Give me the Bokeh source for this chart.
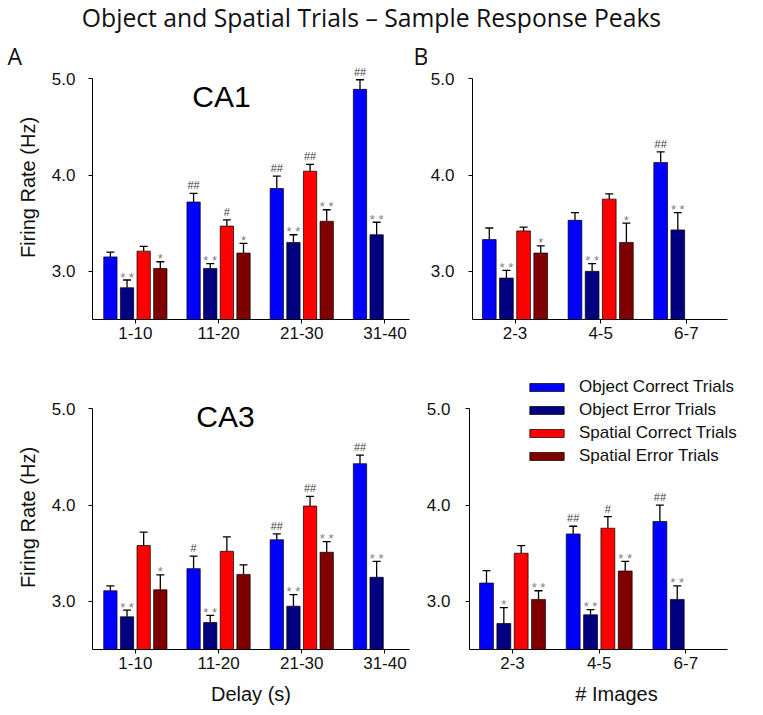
import numpy as np
from bokeh.plotting import figure
from bokeh.models import (ColumnDataSource, Whisker, TeeHead, Label, FixedTicker,
                          PrintfTickFormatter, Range1d)
from bokeh.layouts import column, row
from bokeh.embed import file_html
from bokeh.resources import INLINE
from bokeh.core.properties import value

# ---------------- data ----------------
title_text = "Object and Spatial Trials \u2013 Sample Response Peaks"
delay_cats = ["1-10", "11-20", "21-30", "31-40"]
image_cats = ["2-3", "4-5", "6-7"]
series_names = ["Object Correct Trials", "Object Error Trials",
                "Spatial Correct Trials", "Spatial Error Trials"]
series_colors = ["#0000FF", "#000080", "#FF0000", "#800000"]

# CA1, by delay
ca1_delay_obj_correct = [3.15, 3.72, 3.86, 4.89]
ca1_delay_obj_correct_sem = [0.05, 0.09, 0.13, 0.10]
ca1_delay_obj_error = [2.83, 3.03, 3.30, 3.38]
ca1_delay_obj_error_sem = [0.08, 0.05, 0.08, 0.13]
ca1_delay_sp_correct = [3.21, 3.47, 4.04]
ca1_delay_sp_correct_sem = [0.05, 0.065, 0.07]
ca1_delay_sp_error = [3.03, 3.19, 3.52]
ca1_delay_sp_error_sem = [0.07, 0.10, 0.12]
ca1_delay_marks = [["", "##", "##", "##"], ["**", "**", "**", "**"],
                   ["", "#", "##"], ["*", "*", "**"]]

# CA1, by number of images
ca1_img_obj_correct = [3.33, 3.53, 4.13]
ca1_img_obj_correct_sem = [0.12, 0.08, 0.11]
ca1_img_obj_error = [2.93, 3.00, 3.43]
ca1_img_obj_error_sem = [0.08, 0.08, 0.18]
ca1_img_sp_correct = [3.42, 3.75]
ca1_img_sp_correct_sem = [0.04, 0.055]
ca1_img_sp_error = [3.19, 3.30]
ca1_img_sp_error_sem = [0.075, 0.20]
ca1_img_marks = [["", "", "##"], ["**", "**", "**"], ["", ""], ["*", "*"]]

# CA3, by delay
ca3_delay_obj_correct = [3.11, 3.34, 3.64, 4.43]
ca3_delay_obj_correct_sem = [0.05, 0.13, 0.06, 0.09]
ca3_delay_obj_error = [2.84, 2.78, 2.95, 3.25]
ca3_delay_obj_error_sem = [0.07, 0.075, 0.12, 0.165]
ca3_delay_sp_correct = [3.58, 3.52, 3.99]
ca3_delay_sp_correct_sem = [0.14, 0.15, 0.10]
ca3_delay_sp_error = [3.12, 3.28, 3.51]
ca3_delay_sp_error_sem = [0.155, 0.10, 0.11]
ca3_delay_marks = [["", "#", "##", "##"], ["**", "**", "**", "**"],
                   ["", "", "##"], ["*", "", "**"]]

# CA3, by number of images
ca3_img_obj_correct = [3.19, 3.70, 3.83]
ca3_img_obj_correct_sem = [0.13, 0.08, 0.17]
ca3_img_obj_error = [2.77, 2.86, 3.02]
ca3_img_obj_error_sem = [0.165, 0.055, 0.14]
ca3_img_sp_correct = [3.50, 3.76]
ca3_img_sp_correct_sem = [0.08, 0.12]
ca3_img_sp_error = [3.02, 3.315]
ca3_img_sp_error_sem = [0.09, 0.10]
ca3_img_marks = [["", "##", "##"], ["*", "**", "**"], ["", "#"], ["**", "**"]]

ARIAL = "Liberation Sans"
CALIBRI = "Open Sans"
OFFSETS = [-0.3, -0.1, 0.1, 0.3]
BAR_W = 0.16


def style_axes(p, cats, xbounds, ystandoff):
    p.grid.visible = False
    p.outline_line_color = None
    p.xaxis.ticker = FixedTicker(ticks=list(range(len(cats))))
    p.xaxis.major_label_overrides = {i: c for i, c in enumerate(cats)}
    p.xaxis.bounds = xbounds
    p.yaxis.ticker = FixedTicker(ticks=[3.0, 4.0, 5.0])
    p.yaxis.formatter = PrintfTickFormatter(format="%.1f")
    p.yaxis.bounds = (2.5, 5.0)
    for ax in (p.xaxis[0], p.yaxis[0]):
        ax.axis_line_color = "black"
        ax.axis_line_width = 1
        ax.major_tick_in = 0
        ax.major_tick_out = 4
        ax.major_tick_line_color = "black"
        ax.minor_tick_line_color = None
        ax.major_label_text_font = ARIAL
        ax.major_label_text_font_size = "17px"
        ax.major_label_text_color = "#111111"
    p.yaxis.major_label_standoff = ystandoff
    p.xaxis.major_label_standoff = 3


def make_panel(cats, means, sems, marks, xr, xbounds, yr, width, height,
               bl, br, bt, bb, ystandoff, legend=False):
    p = figure(width=width, height=height, toolbar_location=None, output_backend="svg",
               x_range=Range1d(*xr), y_range=Range1d(*yr),
               min_border_left=bl, min_border_right=br, min_border_top=bt,
               min_border_bottom=bb, title=None)
    style_axes(p, cats, xbounds, ystandoff)
    for k in range(4):
        m = means[k]
        s = sems[k]
        xs = [i + OFFSETS[k] for i in range(len(m))]
        tops = [a + b for a, b in zip(m, s)]
        src = ColumnDataSource(dict(x=xs, y=m, top=tops))
        kw = dict(legend_label=series_names[k]) if legend else {}
        p.vbar(x="x", top="y", bottom=2.5, width=BAR_W, source=src,
               fill_color=series_colors[k], line_color="black", line_width=0.7, **kw)
        p.add_layout(Whisker(source=src, base="x", lower="y", upper="top",
                             dimension="height", line_color="black", line_width=1.3,
                             lower_head=None,
                             upper_head=TeeHead(size=8, line_color="black", line_width=1.3)))
        hash_src = ColumnDataSource(dict(
            x=[x for x, t in zip(xs, marks[k]) if t.startswith("#")],
            y=[y for y, t in zip(tops, marks[k]) if t.startswith("#")],
            t=[t for t in marks[k] if t.startswith("#")]))
        star_src = ColumnDataSource(dict(
            x=[x for x, t in zip(xs, marks[k]) if t.startswith("*")],
            y=[y for y, t in zip(tops, marks[k]) if t.startswith("*")],
            t=[" ".join(t) for t in marks[k] if t.startswith("*")]))
        p.text(x="x", y="y", text="t", source=hash_src, text_align="center",
               text_baseline="alphabetic", y_offset=-8, text_font=value(ARIAL),
               text_font_size="11px", text_color="#404040")
        p.text(x="x", y="y", text="t", source=star_src, text_align="center",
               text_baseline="alphabetic", y_offset=-3, text_font=value(ARIAL),
               text_font_size="13px", text_color="#808080")
    return p


def blank(width, height, bt=0, bb=0):
    b = figure(width=width, height=height, toolbar_location=None, output_backend="svg",
               x_range=Range1d(0, 1), y_range=Range1d(0, 1),
               x_axis_type=None, y_axis_type=None, min_border=0,
               min_border_top=bt, min_border_bottom=bb, title=None)
    b.grid.visible = False
    b.outline_line_color = None
    return b


XR_DELAY = (-0.515, 3.295)
XR_IMG = (-0.496, 2.48)
YR_TOP = (2.5, 5.439)      # frame top row: 36 .. 319
YR_BOT = (2.5, 5.45)       # frame bottom row: 365 .. 649

p1 = make_panel(delay_cats,
                [ca1_delay_obj_correct, ca1_delay_obj_error, ca1_delay_sp_correct, ca1_delay_sp_error],
                [ca1_delay_obj_correct_sem, ca1_delay_obj_error_sem, ca1_delay_sp_correct_sem, ca1_delay_sp_error_sem],
                ca1_delay_marks, XR_DELAY, XR_DELAY, YR_TOP, 362, 324, 41, 1, 0, 41, 13)
p2 = make_panel(image_cats,
                [ca1_img_obj_correct, ca1_img_obj_error, ca1_img_sp_correct, ca1_img_sp_error],
                [ca1_img_obj_correct_sem, ca1_img_obj_error_sem, ca1_img_sp_correct_sem, ca1_img_sp_error_sem],
                ca1_img_marks, XR_IMG, XR_IMG, YR_TOP, 336, 324, 42, 36, 0, 41, 14)
p3 = make_panel(delay_cats,
                [ca3_delay_obj_correct, ca3_delay_obj_error, ca3_delay_sp_correct, ca3_delay_sp_error],
                [ca3_delay_obj_correct_sem, ca3_delay_obj_error_sem, ca3_delay_sp_correct_sem, ca3_delay_sp_error_sem],
                ca3_delay_marks, XR_DELAY, XR_DELAY, YR_BOT, 362, 347, 41, 1, 5, 58, 13)
p4 = make_panel(image_cats,
                [ca3_img_obj_correct, ca3_img_obj_error, ca3_img_sp_correct, ca3_img_sp_error],
                [ca3_img_obj_correct_sem, ca3_img_obj_error_sem, ca3_img_sp_correct_sem, ca3_img_sp_error_sem],
                ca3_img_marks, (-0.496, 2.895), XR_IMG, YR_BOT, 353, 347, 59, 0, 5, 58, 15,
                legend=True)

# x axis labels on bottom row
for p, lab in ((p3, "Delay (s)"), (p4, "# Images")):
    p.xaxis.axis_label = lab
    p.xaxis.axis_label_text_font = ARIAL
    p.xaxis.axis_label_text_font_size = "20px"
    p.xaxis.axis_label_text_font_style = "normal"
    p.xaxis.axis_label_text_color = "#111111"
    p.xaxis.axis_label_standoff = 11

# legend
lg = p4.legend[0]
lg.location = (56, 183)
lg.padding = 0
lg.margin = 0
lg.spacing = 3
lg.glyph_width = 43
lg.glyph_height = 10
lg.label_height = 20
lg.label_standoff = 11
lg.label_text_font = ARIAL
lg.label_text_font_size = "17px"
lg.label_text_color = "#111111"
lg.background_fill_alpha = 0
lg.border_line_color = None

# region labels inside frames
p1.add_layout(Label(x=129, y=223, x_units="screen", y_units="screen", text="CA1",
                    text_align="center", text_baseline="alphabetic",
                    text_font=ARIAL, text_font_size="30px", text_color="black"))
p3.add_layout(Label(x=133, y=233, x_units="screen", y_units="screen", text="CA3",
                    text_align="center", text_baseline="alphabetic",
                    text_font=ARIAL, text_font_size="30px", text_color="black"))

# left strips: panel letter and y-axis title (frames aligned with neighbouring plots)
sA = blank(48, 324, bt=0, bb=41)
sA.add_layout(Label(x=7, y=264, x_units="screen", y_units="screen", text="A",
                    text_align="left", text_baseline="alphabetic",
                    text_font=CALIBRI, text_font_size="23px", text_color="#111111"))
sA.add_layout(Label(x=27, y=132, x_units="screen", y_units="screen",
                    text="Firing Rate (Hz)", angle=np.pi / 2,
                    text_align="center", text_baseline="middle",
                    text_font=ARIAL, text_font_size="20px", text_color="#111111"))
sC = blank(48, 347, bt=5, bb=58)
sC.add_layout(Label(x=27, y=132, x_units="screen", y_units="screen",
                    text="Firing Rate (Hz)", angle=np.pi / 2,
                    text_align="center", text_baseline="middle",
                    text_font=ARIAL, text_font_size="20px", text_color="#111111"))
sB = blank(17, 324, bt=0, bb=41)
sB.add_layout(Label(x=3, y=264, x_units="screen", y_units="screen", text="B",
                    text_align="left", text_baseline="alphabetic",
                    text_font=CALIBRI, text_font_size="23px", text_color="#111111"))

# title strip
pt = blank(763, 36)
pt.add_layout(Label(x=371, y=19, x_units="screen", y_units="screen", text=title_text,
                    text_align="center", text_baseline="alphabetic",
                    text_font=CALIBRI, text_font_size="24.7px", text_color="#111111"))

layout = column(pt, row(sA, p1, sB, p2), row(sC, p3, p4))
open("out.html", "w").write(file_html(layout, INLINE))
